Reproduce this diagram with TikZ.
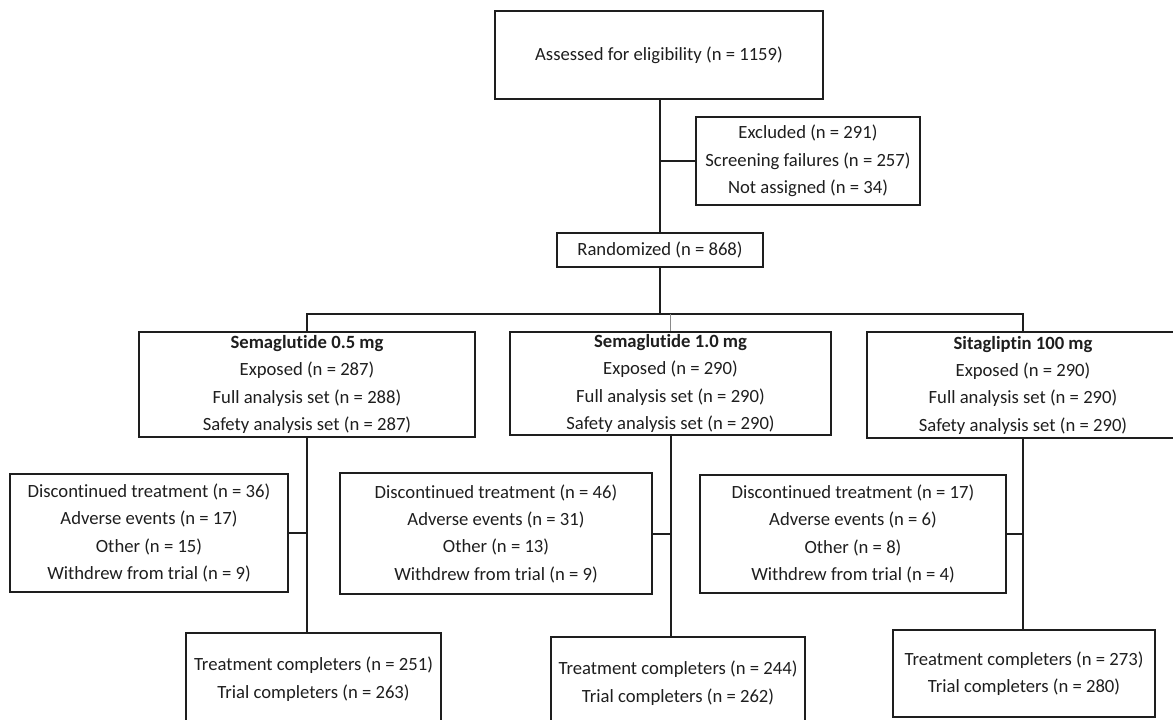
\documentclass[tikz,border=0pt]{standalone}
\usepackage{fontspec}
\setmainfont{Carlito}[Ligatures=NoCommon]
\usepackage{tikz}
\usetikzlibrary{positioning}
\definecolor{Ink}{HTML}{1E1E1E}
\definecolor{Muted}{HTML}{8A8A8A}

\begin{document}
\begin{tikzpicture}[x=0.75pt,y=-0.75pt,
  box/.style={draw=Ink,line width=1.5pt,align=center,inner sep=0pt,
    font=\fontsize{14}{20.5}\selectfont,text=Ink},
  link/.style={draw=Ink,line width=1.5pt}]
  \useasboundingbox (0,0) rectangle (1173,719);
  % screening
  \node[box,minimum width=246pt,minimum height=66pt] (elig) at (659,55)
    {Assessed for eligibility (n = 1159)};
  \node[box,minimum width=168pt,minimum height=66pt] (excl) at (808,161)
    {Excluded (n = 291)\\Screening failures (n = 257)\\Not assigned (n = 34)};
  \node[box,minimum width=154.5pt,minimum height=25.5pt] (rand) at (660,250)
    {Randomized (n = 868)};
  % arms
  \node[box,minimum width=252pt,minimum height=78.75pt] (armA) at (307,384.5)
    {\textbf{Semaglutide 0.5 mg}\\Exposed (n = 287)\\Full analysis set (n = 288)\\Safety analysis set (n = 287)};
  \node[box,minimum width=240.75pt,minimum height=77.25pt] (armB) at (670.5,383.5)
    {\textbf{Semaglutide 1.0 mg}\\Exposed (n = 290)\\Full analysis set (n = 290)\\Safety analysis set (n = 290)};
  \node[box,minimum width=234pt,minimum height=79.5pt] (armC) at (1023,385)
    {\textbf{Sitagliptin 100 mg}\\Exposed (n = 290)\\Full analysis set (n = 290)\\Safety analysis set (n = 290)};
  % discontinued
  \node[box,minimum width=208.5pt,minimum height=88.5pt] (discA) at (149,533)
    {Discontinued treatment (n = 36)\\Adverse events (n = 17)\\Other (n = 15)\\Withdrew from trial (n = 9)};
  \node[box,minimum width=234pt,minimum height=90.75pt] (discB) at (496,533.5)
    {Discontinued treatment (n = 46)\\Adverse events (n = 31)\\Other (n = 13)\\Withdrew from trial (n = 9)};
  \node[box,minimum width=229.5pt,minimum height=88.5pt] (discC) at (853,534)
    {Discontinued treatment (n = 17)\\Adverse events (n = 6)\\Other (n = 8)\\Withdrew from trial (n = 4)};
  % completers
  \node[box,minimum width=191.25pt,minimum height=69pt] (compA) at (313.5,679)
    {Treatment completers (n = 251)\\Trial completers (n = 263)};
  \node[box,minimum width=190.5pt,minimum height=69pt] (compB) at (678,683)
    {Treatment completers (n = 244)\\Trial completers (n = 262)};
  \node[box,minimum width=196.5pt,minimum height=65.25pt] (compC) at (1024,673.5)
    {Treatment completers (n = 273)\\Trial completers (n = 280)};
  \coordinate (bus) at (660,314);

  \draw[link] (rand.north |- elig.south) -- (rand.north);
  \draw[link] (excl.west) -- (excl.west -| rand.north);
  \draw[link] (rand.south) -- (bus);
  \draw[link] (armA.north) -- (armA.north |- bus) -- (armC.north |- bus) -- (armC.north);
  \draw[Muted,line width=0.9pt] (armB.north |- bus) -- (armB.north);
  \draw[link] (armA.south) -- (armA.south |- compA.north);
  \draw[link] (armB.south) -- (armB.south |- compB.north);
  \draw[link] (armC.south) -- (armC.south |- compC.north);
  \draw[link] (discA.east) -- (discA.east -| armA.south);
  \draw[link] (discB.east) -- (discB.east -| armB.south);
  \draw[link] (discC.east) -- (discC.east -| armC.south);
\end{tikzpicture}
\end{document}
